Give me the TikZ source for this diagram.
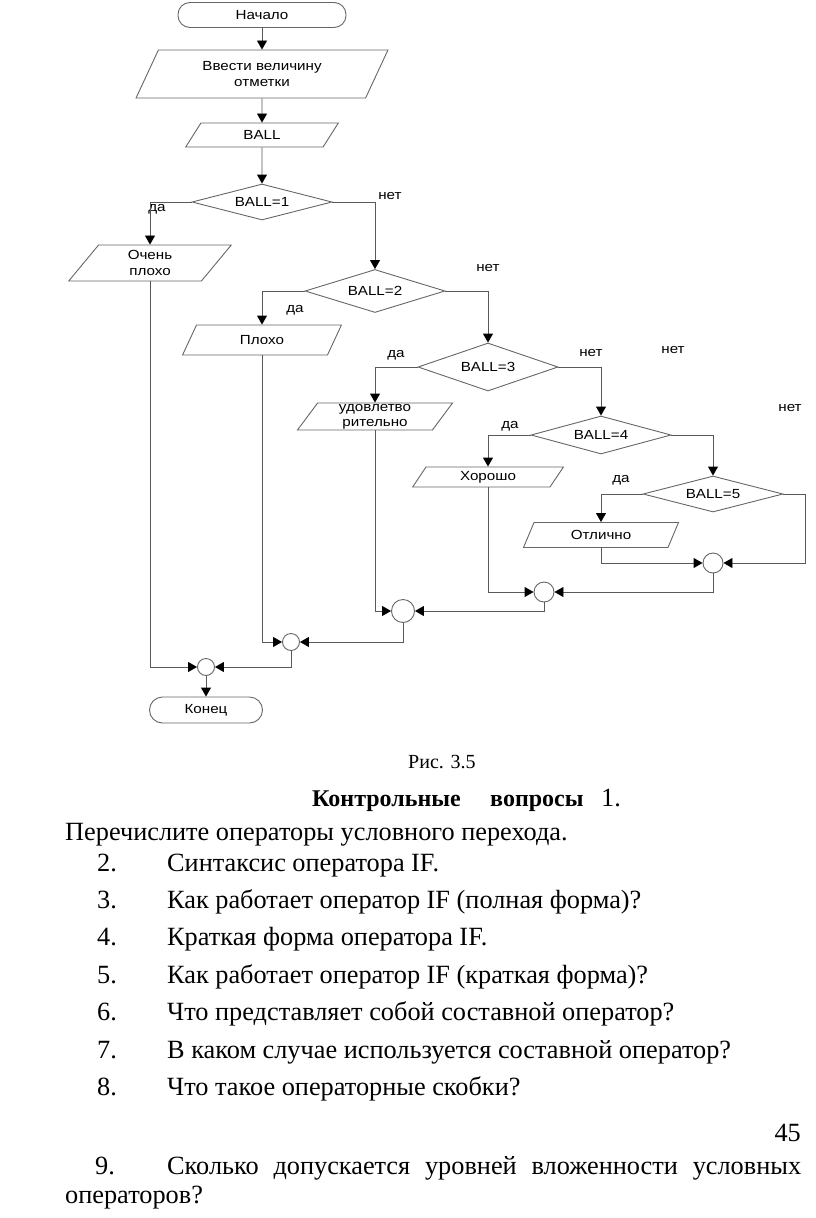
\documentclass[tikz,border=0pt]{standalone}
\usepackage{fontspec}
\setmainfont{Liberation Serif}
\newfontfamily\flowfont[FakeStretch=1.15]{Liberation Sans}
\usetikzlibrary{shapes.geometric,arrows.meta,calc}
\newcommand{\ffs}{\flowfont\fontsize{13.2}{16}\selectfont}
\newcommand{\bfs}{\fontsize{26.3}{30}\selectfont}
\begin{document}
\begin{tikzpicture}[x=1pt,y=-1pt,
  line/.style={draw=black!65, line width=0.9pt},
  arr/.style={line, -{Triangle[length=9pt,width=10pt,color=black]}},
  term/.style={draw=black!60, line width=0.9pt, rounded corners=12pt, minimum height=25pt, inner sep=0pt, font=\ffs},
  io/.style={trapezium, trapezium left angle=63, trapezium right angle=117, trapezium stretches=true, draw=black!60, line width=0.9pt, inner sep=0pt, font=\ffs, align=center},
  dec/.style={diamond, draw=black!60, line width=0.9pt, minimum width=140pt, inner sep=0pt, aspect=3.5, font=\ffs},
  junc/.style={circle, draw=black!60, line width=0.9pt, inner sep=0pt},
  lbl/.style={font=\ffs, inner sep=0pt},
  body/.style={font=\bfs, inner sep=0pt, anchor=base west},
]
\useasboundingbox (0,0) rectangle (816,1218);
% flowchart nodes
\node[term, minimum width=168pt] (start) at (262,15) {Начало};
\node[io, minimum width=252pt, minimum height=48pt] (inp) at (262,74) {Ввести величину\\отметки};
\node[io, minimum width=153pt, minimum height=24pt] (ball) at (262,135) {BALL};
\node[dec, minimum height=36pt] (b1) at (262,202) {BALL=1};
\node[io, minimum width=163pt, minimum height=36pt] (vbad) at (150,263) {Очень\\плохо};
\node[dec, minimum height=43pt] (b2) at (375,291) {BALL=2};
\node[io, minimum width=159pt, minimum height=30pt] (bad) at (262,340) {Плохо};
\node[dec, minimum height=48pt] (b3) at (488,367) {BALL=3};
\node[io, minimum width=156pt, minimum height=27pt, font=\flowfont\fontsize{13.2}{15}\selectfont] (sat) at (375,416.5) {удовлетво\\рительно};
\node[dec, minimum height=38pt] (b4) at (601,435) {BALL=4};
\node[io, minimum width=151pt, minimum height=20pt] (good) at (488,477) {Хорошо};
\node[dec, minimum height=36pt] (b5) at (713,494) {BALL=5};
\node[io, minimum width=156pt, minimum height=25pt] (exc) at (601,535) {Отлично};
\node[junc, minimum size=20pt] (c1) at (713,563) {};
\node[junc, minimum size=20pt] (c2) at (544,592) {};
\node[junc, minimum size=23pt] (c3) at (403,611) {};
\node[junc, minimum size=17pt] (c4) at (291,642) {};
\node[junc, minimum size=17pt] (c5) at (206,667) {};
\node[term, minimum width=113pt, minimum height=26pt, rounded corners=13pt] (end) at (206,710) {Конец};
% labels
\node[lbl] (l1) at (157,209) {да};
\node[lbl] (l2) at (390,196) {нет};
\node[lbl] (l3) at (295,310) {да};
\node[lbl] (l4) at (488,268) {нет};
\node[lbl] (l5) at (396,355) {да};
\node[lbl] (l6) at (591,353) {нет};
\node[lbl] (l7) at (673,350) {нет};
\node[lbl] (l8) at (790,408) {нет};
\node[lbl] (l9) at (510,426) {да};
\node[lbl] (l10) at (621,480) {да};
% connectors
\draw[arr] (start) -- (inp);
\draw[arr] (inp) -- (ball);
\draw[arr] (ball) -- (b1);
\draw[arr] (b1.west) -| (vbad.north);
\draw[arr] (b1.east) -| (b2.north);
\draw[arr] (b2.west) -| (bad.north);
\draw[arr] (b2.east) -| (b3.north);
\draw[arr] (b3.west) -| (sat.north);
\draw[arr] (b3.east) -| (b4.north);
\draw[arr] (b4.west) -| (good.north);
\draw[arr] (b4.east) -| (b5.north);
\draw[arr] (b5.west) -| (exc.north);
\draw[arr] (b5.east) -- ++(22,0) |- (c1.east);
\draw[arr] (exc.south) |- (c1.west);
\draw[arr] (c1.south) |- (c2.east);
\draw[arr] (good.south) |- (c2.west);
\draw[arr] (c2.south) |- (c3.east);
\draw[arr] (sat.south) |- (c3.west);
\draw[arr] (c3.south) |- (c4.east);
\draw[arr] (bad.south) |- (c4.west);
\draw[arr] (c4.south) |- (c5.east);
\draw[arr] (vbad.south) |- (c5.west);
\draw[arr] (c5) -- (end);
% text
\node[body, font=\fontsize{20}{24}\selectfont] (cap) at (408,768) {Рис. 3.5};
\node[body, font=\fontsize{24}{28}\selectfont\bfseries] (q1a) at (312,806) {Контрольные};
\node[body, font=\fontsize{24}{28}\selectfont\bfseries] (q1b) at (490,806) {вопросы};
\node[body] (q1c) at (601,806) {1.};
\node[body] (q1d) at (65,840) {Перечислите операторы условного перехода.};
\node[body] (n2) at (97,871) {2.};
\node[body] (t2) at (167,871) {Синтаксис оператора IF.};
\node[body] (n3) at (97,908.4) {3.};
\node[body] (t3) at (167,908.4) {Как работает оператор IF (полная форма)?};
\node[body] (n4) at (97,945.8) {4.};
\node[body] (t4) at (167,945.8) {Краткая форма оператора IF.};
\node[body] (n5) at (97,983.2) {5.};
\node[body] (t5) at (167,983.2) {Как работает оператор IF (краткая форма)?};
\node[body] (n6) at (97,1020.6) {6.};
\node[body] (t6) at (167,1020.6) {Что представляет собой составной оператор?};
\node[body] (n7) at (97,1058) {7.};
\node[body] (t7) at (167,1058) {В каком случае используется составной оператор?};
\node[body] (n8) at (97,1095.4) {8.};
\node[body] (t8) at (167,1095.4) {Что такое операторные скобки?};
\node[body, anchor=base east] (pg) at (801,1141) {45};
\node[body] (n9) at (95,1174) {9.};
\node[body] (t9) at (167,1174) {\hbox to 634pt{Сколько\hfill допускается\hfill уровней\hfill вложенности\hfill условных}};
\node[body] (t9b) at (65,1203) {операторов?};
\end{tikzpicture}
\end{document}
